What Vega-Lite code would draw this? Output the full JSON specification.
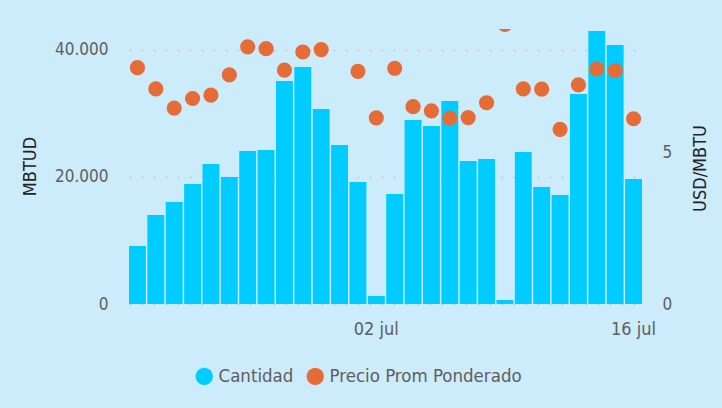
{
  "$schema": "https://vega.github.io/schema/vega-lite/v6.json",
  "width": 513,
  "height": 275,
  "autosize": {"type": "none"},
  "padding": {"left": 129, "top": 29, "right": 80, "bottom": 104},
  "background": "#CCEBFB",
  "config": {
    "view": {"stroke": null},
    "font": "DejaVu Sans Condensed",
    "axis": {
      "labelFont": "DejaVu Sans Condensed",
      "titleFont": "DejaVu Sans Condensed",
      "labelColor": "#605E5C",
      "titleColor": "#252423",
      "labelFontSize": 17,
      "titleFontSize": 18,
      "titleFontWeight": "normal",
      "domain": false,
      "ticks": false
    },
    "legend": {
      "labelFont": "DejaVu Sans Condensed",
      "labelColor": "#605E5C",
      "labelFontSize": 18.5,
      "labelLimit": 0
    }
  },
  "data": {
    "values": [
      {"dia": "19 jun", "cantidad": 9130, "precio": 7.82},
      {"dia": "20 jun", "cantidad": 14020, "precio": 7.12},
      {"dia": "21 jun", "cantidad": 16060, "precio": 6.48},
      {"dia": "22 jun", "cantidad": 18900, "precio": 6.80},
      {"dia": "23 jun", "cantidad": 22050, "precio": 6.91},
      {"dia": "24 jun", "cantidad": 20000, "precio": 7.58},
      {"dia": "25 jun", "cantidad": 24090, "precio": 8.51},
      {"dia": "26 jun", "cantidad": 24250, "precio": 8.45},
      {"dia": "27 jun", "cantidad": 35120, "precio": 7.74},
      {"dia": "28 jun", "cantidad": 37320, "precio": 8.34},
      {"dia": "29 jun", "cantidad": 30710, "precio": 8.42},
      {"dia": "30 jun", "cantidad": 25040, "precio": null},
      {"dia": "01 jul", "cantidad": 19210, "precio": 7.70},
      {"dia": "02 jul", "cantidad": 1260, "precio": 6.16},
      {"dia": "03 jul", "cantidad": 17320, "precio": 7.80},
      {"dia": "04 jul", "cantidad": 28980, "precio": 6.53},
      {"dia": "05 jul", "cantidad": 28030, "precio": 6.39},
      {"dia": "06 jul", "cantidad": 31970, "precio": 6.15},
      {"dia": "07 jul", "cantidad": 22520, "precio": 6.17},
      {"dia": "08 jul", "cantidad": 22840, "precio": 6.66},
      {"dia": "09 jul", "cantidad": 630, "precio": 9.25},
      {"dia": "10 jul", "cantidad": 23940, "precio": 7.12},
      {"dia": "11 jul", "cantidad": 18430, "precio": 7.11},
      {"dia": "12 jul", "cantidad": 17170, "precio": 5.78},
      {"dia": "13 jul", "cantidad": 33070, "precio": 7.25},
      {"dia": "14 jul", "cantidad": 42990, "precio": 7.78},
      {"dia": "15 jul", "cantidad": 40790, "precio": 7.72},
      {"dia": "16 jul", "cantidad": 19690, "precio": 6.13}
    ]
  },
  "encoding": {
    "x": {
      "field": "dia",
      "type": "ordinal",
      "sort": null,
      "scale": {"paddingInner": 0.08, "paddingOuter": 0},
      "axis": {
        "title": null,
        "values": ["02 jul", "16 jul"],
        "labelAngle": 0,
        "labelPadding": 16,
        "labelFontSize": 18,
        "grid": false
      }
    }
  },
  "layer": [
    {
      "mark": {"type": "bar"},
      "encoding": {
        "y": {
          "field": "cantidad",
          "type": "quantitative",
          "scale": {"domain": [0, 43300], "nice": false},
          "axis": {
            "title": "MBTUD",
            "values": [0, 20000, 40000],
            "format": ",d",
            "labelExpr": "replace(datum.label, ',', '.')",
            "labelPadding": 21,
            "titleX": -99,
            "titleY": 137,
            "titleAngle": 270,
            "titleBaseline": "middle",
            "titleAlign": "center",
            "grid": true,
            "gridColor": "#C8C6C4",
            "gridDash": [2, 10],
            "gridWidth": 1.5
          }
        },
        "color": {
          "datum": "Cantidad",
          "type": "nominal",
          "scale": {
            "domain": ["Cantidad", "Precio Prom Ponderado"],
            "range": ["#00CCFF", "#E66C37"]
          },
          "legend": {
            "title": null,
            "orient": "none",
            "direction": "horizontal",
            "legendX": 66,
            "legendY": 338,
            "symbolType": "circle",
            "symbolSize": 300,
            "symbolStrokeWidth": 0,
            "symbolOpacity": 1,
            "columnPadding": 12,
            "labelOffset": 5
          }
        }
      }
    },
    {
      "mark": {"type": "circle", "size": 230, "opacity": 1, "clip": true},
      "encoding": {
        "y": {
          "field": "precio",
          "type": "quantitative",
          "scale": {"domain": [0, 9.1], "nice": false},
          "axis": {
            "orient": "right",
            "title": "USD/MBTU",
            "values": [0, 5],
            "labelPadding": 20,
            "titleX": 58,
            "titleY": 139,
            "titleAngle": 270,
            "titleBaseline": "middle",
            "titleAlign": "center",
            "grid": false
          }
        },
        "color": {"datum": "Precio Prom Ponderado", "type": "nominal"}
      }
    }
  ],
  "resolve": {"scale": {"y": "independent"}}
}
